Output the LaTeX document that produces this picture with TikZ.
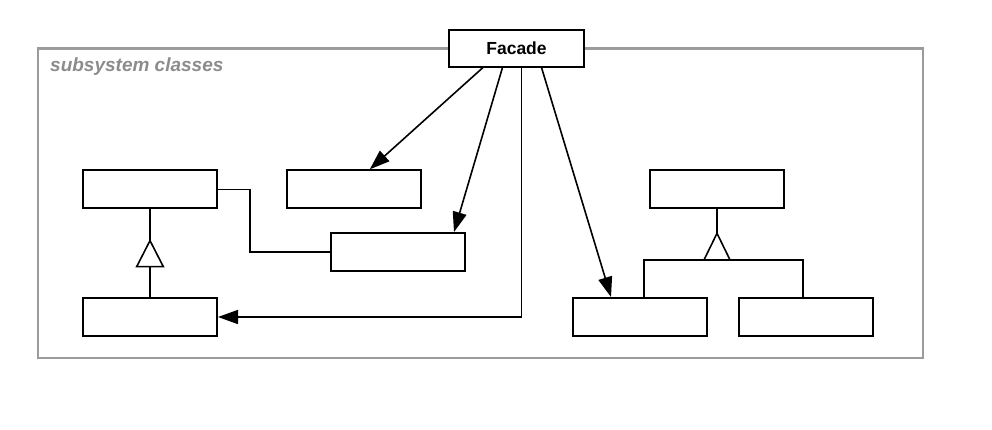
\documentclass[tikz,border=0pt]{standalone}
\usepackage{fontspec}
\setmainfont{Liberation Sans}
\usetikzlibrary{arrows.meta,calc}
\definecolor{framegray}{RGB}{155,155,155}
\definecolor{textgray}{RGB}{140,140,140}
\tikzset{
  cls/.style={draw=black, line width=2pt, fill=white, minimum width=134pt, minimum height=38pt, inner sep=0pt},
  conn/.style={line width=1.6pt, draw=black},
  assoc/.style={conn, -{Triangle[length=20pt,width=14pt]}},
  gen/.style={line width=1.6pt, draw=black, fill=white, line join=miter}
}
\begin{document}
\begin{tikzpicture}[x=1pt,y=-1pt]
\useasboundingbox (0,0) rectangle (992,429);
% subsystem frame
\draw[framegray, line width=2.8pt] (38,48.3) rectangle (923,358);
\node[anchor=base west, text=textgray, font=\fontsize{19}{22}\selectfont\bfseries\itshape, inner sep=0pt] (lbl) at (50,71.7) {subsystem classes};
% classes
\node[cls, minimum width=135pt, minimum height=37pt, font=\fontsize{17.5}{20}\selectfont\bfseries] (facade) at (516.5,48) {Facade};
\node[cls] (A) at (150,189.3) {};
\node[cls] (B) at (353.8,189.3) {};
\node[cls] (C) at (398,252) {};
\node[cls] (D) at (150,317) {};
\node[cls] (E) at (717,189.3) {};
\node[cls] (F) at (640,317) {};
\node[cls] (G) at (806,317) {};
% facade associations
\draw[assoc] ([xshift=-33.5pt]facade.south) -- ([xshift=16pt]B.north);
\draw[assoc] ([xshift=-14pt]facade.south) -- ([xshift=56pt]C.north);
\draw[assoc] ([xshift=5pt]facade.south) |- (D.east);
\draw[assoc] ([xshift=25pt]facade.south) -- ([xshift=-29pt]F.north);
% A - C association
\draw[conn] (A.east) -- ([xshift=32pt]A.east) |- (C.west);
% left generalization
\coordinate (lt) at ($(A.south)+(0,31.3)$);
\draw[conn] (A.south) -- (lt);
\draw[gen] (lt) -- ++(-13.3,26) -- ++(26.6,0) -- cycle;
\draw[conn] ($(lt)+(0,26)$) -- (D.north);
% right generalization
\coordinate (rt) at ($(E.south)+(0,24)$);
\draw[conn] (E.south) -- (rt);
\draw[gen] (rt) -- ++(-13,26.6) -- ++(26,0) -- cycle;
\draw[conn] ([xshift=4pt]F.north) |- ($(rt)+(0,26.6)$) -| ([xshift=-3.3pt]G.north);
\end{tikzpicture}
\end{document}
